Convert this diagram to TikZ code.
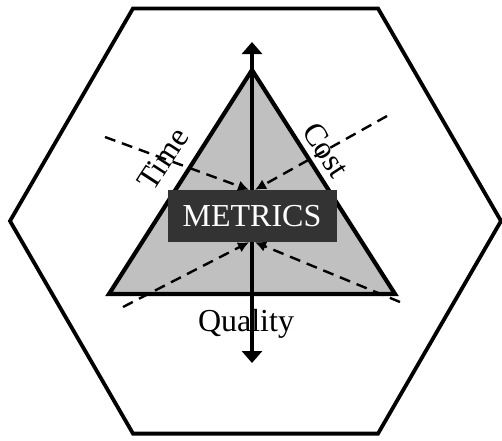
\documentclass[tikz,border=0pt]{standalone}
\usepackage{fontspec}
\setmainfont{Liberation Serif}
\usetikzlibrary{arrows.meta}
\definecolor{trigray}{RGB}{192,192,192}
\definecolor{boxgray}{RGB}{51,51,51}
\tikzset{
  hex/.style={line width=3.8pt,line join=miter},
  tri/.style={draw,line width=4.2pt,line join=miter,fill=trigray},
  mbox/.style={fill=boxgray,text=white,inner sep=0pt,minimum width=169pt,minimum height=52pt},
  cimke/.style={inner sep=0pt},
  vnyil/.style={-{Triangle[length=12pt,width=20pt]},line width=3.3pt},
  dnyil/.style={-{Latex[length=11pt,width=11pt]},line width=2.4pt,dash pattern=on 11pt off 7pt},
}
\begin{document}
\begin{tikzpicture}[x=1pt,y=-1pt,font=\fontsize{32}{32}\selectfont]
  \useasboundingbox (0,0) rectangle (502,440);
  % hatszog es haromszog
  \draw[hex] (133,8.4) -- (378,8.4) -- (501,221) -- (378,433.6) -- (133,433.6) -- (10,221) -- cycle;
  \draw[tri] (109,294) -- (252,70) -- (395,294) -- cycle;
  % cimkek
  \node[cimke,rotate=57] (time) at (163,159) {Time};
  \node[cimke,rotate=-57] (cost) at (326,150) {Cost};
  \node[cimke,anchor=base] (quality) at (246,331) {Quality};
  % vegpontok
  \coordinate (top) at (252,42);
  \coordinate (bot) at (252,363);
  \coordinate (tl) at (105,137);
  \coordinate (tr) at (387,116);
  \coordinate (bl) at (123,307);
  \coordinate (br) at (400,302);
  \node[mbox] (m) at (252,216) {METRICS};
  % nyilak
  \draw[vnyil] (m.north) -- (top);
  \draw[vnyil] (m.south) -- (bot);
  \draw[dnyil] (tl) -- ([xshift=-3pt]m.north);
  \draw[dnyil] (tr) -- ([xshift=3pt]m.north);
  \draw[dnyil] (bl) -- ([xshift=-3pt]m.south);
  \draw[dnyil] (br) -- ([xshift=3pt]m.south);
\end{tikzpicture}
\end{document}
